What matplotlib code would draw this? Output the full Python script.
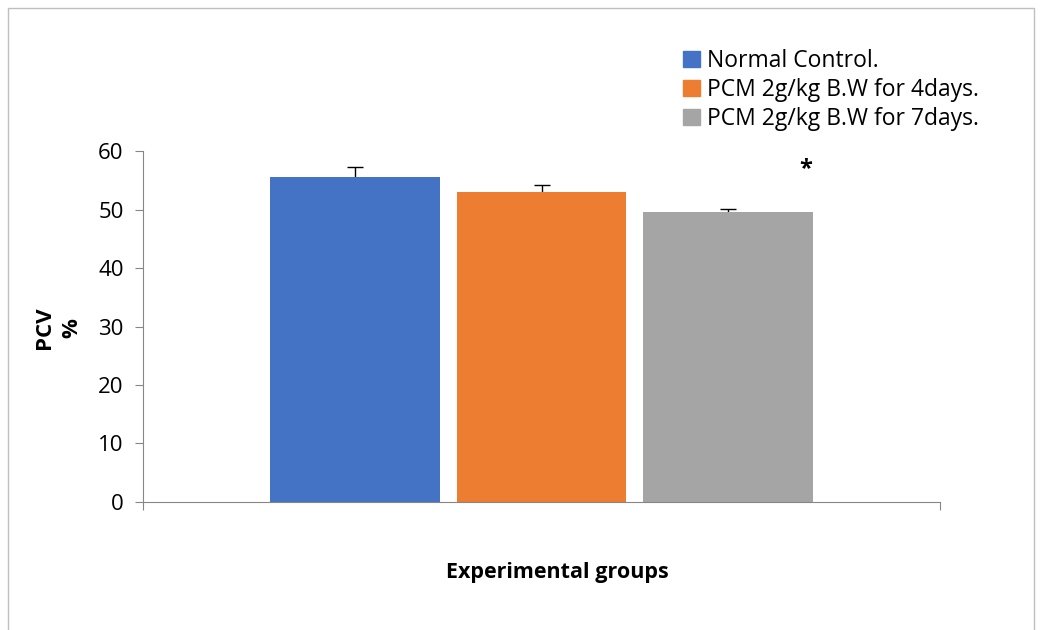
import matplotlib
matplotlib.use("Agg")
import matplotlib.pyplot as plt
from matplotlib.patches import Rectangle, Patch

groups = ["Normal Control.", "PCM 2g/kg B.W for 4days.", "PCM 2g/kg B.W for 7days."]
pcv = [55.5, 53.0, 49.6]
err = [1.7, 1.2, 0.5]
colors = ["#4472C4", "#ED7D31", "#A5A5A5"]
positions = [-1.1, 0.0, 1.1]

plt.rcParams["font.family"] = ["Open Sans", "DejaVu Sans"]

fig = plt.figure(figsize=(10.41, 6.3), dpi=100)
fig.patches.append(Rectangle((0.008, -0.01), 0.985, 0.997, transform=fig.transFigure,
                             fill=False, edgecolor="#BFBFBF", linewidth=1.0))

ax = fig.add_axes([0.1374, 0.2032, 0.7656, 0.557])
for p, v, e, c in zip(positions, pcv, err, colors):
    ax.bar(p, v, width=1.0, color=c, zorder=2)
    # drawn under the bar so only the upper half shows
    ax.errorbar(p, v, yerr=[[e], [e]], fmt="none", ecolor="black", elinewidth=1,
                capsize=6, capthick=1, zorder=1)

ax.text(1.56, 56.9, "*", ha="center", va="center", fontsize=17, fontweight="bold")

ax.set_xlim(-2.35, 2.35)
ax.set_ylim(0, 60)
ax.set_yticks(range(0, 61, 10))
ax.set_xticks([-2.35, 2.35])
ax.set_xticklabels(["", ""])
ax.tick_params(axis="x", direction="out", length=6, color="#868686")
ax.tick_params(axis="y", direction="out", length=6, color="#868686", labelsize=16, pad=8)
for s in ["top", "right"]:
    ax.spines[s].set_visible(False)
for s in ["left", "bottom"]:
    ax.spines[s].set_color("#868686")

fig.text(0.043, 0.48, "PCV", rotation=90, ha="center", va="center", fontsize=16, fontweight="bold")
fig.text(0.069, 0.48, "%", rotation=90, ha="center", va="center", fontsize=16, fontweight="bold")
fig.text(0.535, 0.092, "Experimental groups", ha="center", va="center", fontsize=15.5, fontweight="bold")

handles = [Patch(color=c) for c in colors]
fig.legend(handles, groups, loc="upper left", bbox_to_anchor=(0.636, 0.955), frameon=False,
           fontsize=16.5, handlelength=0.75, handleheight=0.75, handletextpad=0.3, labelspacing=0.22)

fig.savefig("out.png", dpi=100)
